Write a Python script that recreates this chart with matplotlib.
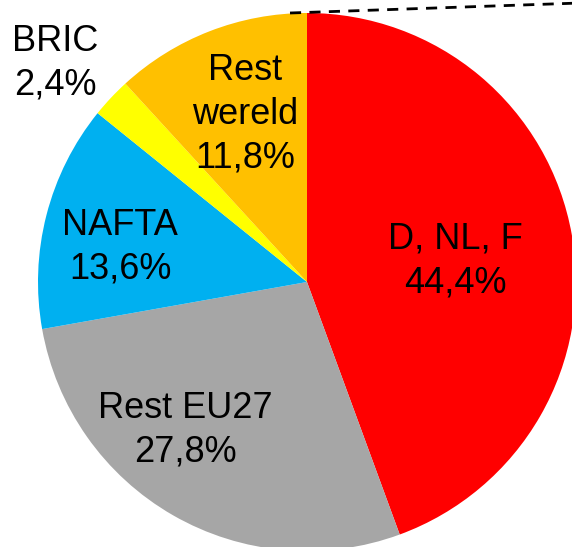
import matplotlib
matplotlib.use("Agg")
import matplotlib.pyplot as plt

labels = ["D, NL, F\n44,4%", "Rest EU27\n27,8%", "NAFTA\n13,6%", "BRIC\n2,4%", "Rest\nwereld\n11,8%"]
shares = [44.4, 27.8, 13.6, 2.4, 11.8]
colors = ["#FF0000", "#A6A6A6", "#00B0F0", "#FFFF00", "#FFC000"]
# label centres in pixel coordinates (x, y from top)
label_pos = [(455, 261), (185, 430), (120, 247), (55, 63), (245, 114)]

W, H = 572, 547
plt.rcParams["font.family"] = ["Liberation Sans", "DejaVu Sans"]

fig = plt.figure(figsize=(W / 100, H / 100), dpi=100)
ax = fig.add_axes([0, 0, 1, 1])

cx, cy, r = 307, H - 282, 269
ax.pie(shares, colors=colors, startangle=90, counterclock=False,
       center=(cx, cy), radius=r, frame=True,
       wedgeprops={"linewidth": 0})
ax.set_xlim(0, W)
ax.set_ylim(0, H)
ax.set_aspect("equal")
ax.axis("off")

for text, (x, y) in zip(labels, label_pos):
    ax.text(x, H - y, text, ha="center", va="center", fontsize=26,
            linespacing=1.32, color="black")

# dashed connector toward the (cut off) second chart
ax.plot([290, 580], [H - 13, H - 3], color="black", linestyle=(0, (4, 3)),
        linewidth=2, clip_on=False)

fig.savefig("out.png", dpi=100)
